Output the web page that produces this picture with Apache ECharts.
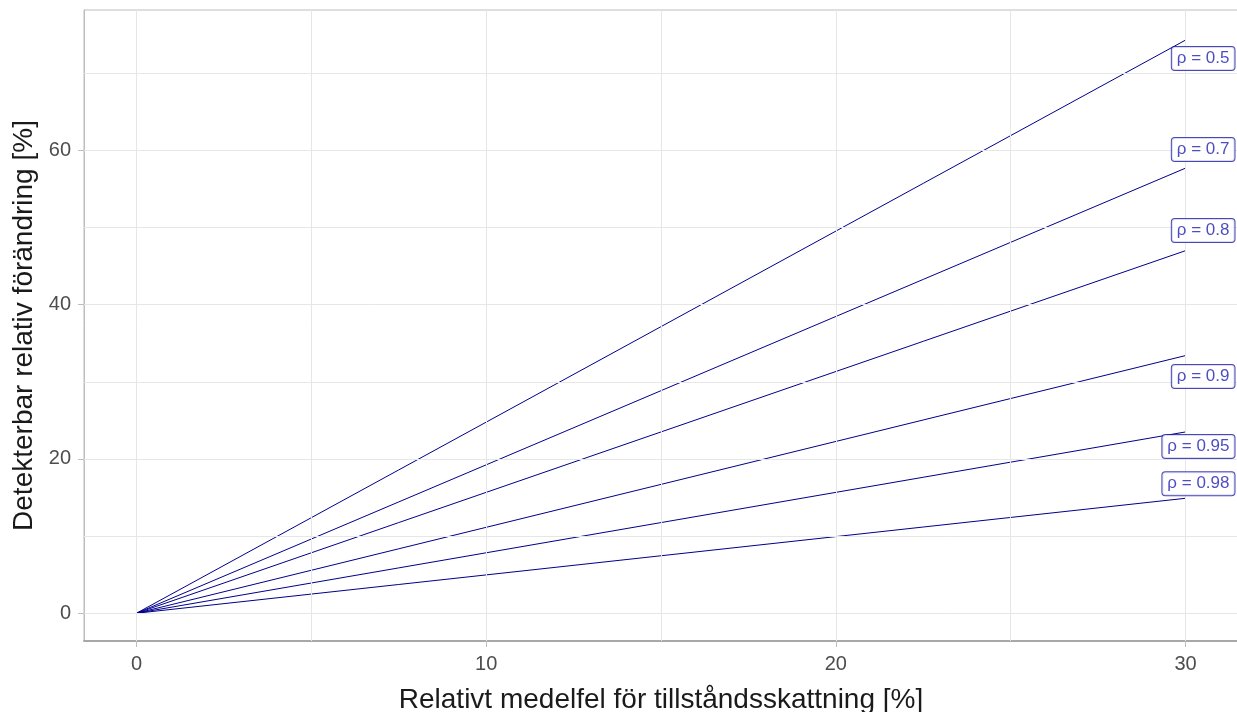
<!DOCTYPE html>
<html><head><meta charset="utf-8">
<script src="https://cdn.jsdelivr.net/npm/echarts@6/dist/echarts.min.js"></script>
<style>html,body{margin:0;padding:0;background:#fff}#c{width:1237px;height:712px}</style>
</head><body><div id="c"></div>
<script>
// Data
var rhoLabels = ['ρ = 0.5','ρ = 0.7','ρ = 0.8','ρ = 0.9','ρ = 0.95','ρ = 0.98'];
var xStart = 0, xEnd = 30;
var endValues = [74.3, 57.7, 47.0, 33.4, 23.5, 14.9];
var labelY = [71.9, 60.1, 49.6, 30.7, 21.6, 16.8];
var labelX = 31.4;
var xTicks = [0, 10, 20, 30];
var yTicks = [0, 20, 40, 60];
var xMinor = [5, 15, 25];
var yMinor = [10, 30, 50, 70];

var font = '"Liberation Sans", Arial, sans-serif';
var gridCol = '#E6E6E6';
var series = [];
rhoLabels.forEach(function(n, i){
  series.push({type:'line', name:n, data:[[xStart,0],[xEnd,endValues[i]]], symbol:'none',
    lineStyle:{color:'#00008B', width:1}, silent:true, z:3});
});
// grid lines
var ml = [];
xTicks.concat(xMinor).forEach(function(v){ ml.push({xAxis:v}); });
yTicks.concat(yMinor).forEach(function(v){ ml.push({yAxis:v}); });
series.push({type:'line', data:[], silent:true, z:1,
  markLine:{silent:true, symbol:'none', label:{show:false},
    lineStyle:{color:gridCol, width:1, type:'solid'}, data:ml, animation:false}});
// labels
series.push({type:'scatter', symbolSize:0, z:5, silent:true,
  data: rhoLabels.map(function(n,i){ return {value:[labelX, labelY[i]], name:n}; }),
  label:{show:true, position:'left', distance:0, formatter:function(p){return p.name;},
    color:'#2020B4', fontFamily:font, fontSize:17, backgroundColor:'#fff',
    borderColor:'#1a1aa8', borderWidth:1, borderRadius:3, padding:[3,5,3,5]}});

var chart = echarts.init(document.getElementById('c'));
chart.setOption({
  animation:false,
  backgroundColor:'#fff',
  grid:{left:84, right:-1, top:10, bottom:71, show:true, borderColor:'#BDBDBD', borderWidth:1,
    containLabel:false, outerBoundsMode:'none'},
  xAxis:{type:'value', min:-1.5, max:31.5,
    name:'Relativt medelfel för tillståndsskattning [%]', nameLocation:'middle', nameGap:45,
    nameTextStyle:{fontFamily:font, fontSize:28, color:'#1a1a1a'},
    axisLine:{show:true, onZero:false, lineStyle:{color:'#A8A8A8', width:2}},
    axisTick:{show:true, customValues:xTicks, length:6, lineStyle:{color:'#BDBDBD'}},
    axisLabel:{customValues:xTicks, fontFamily:font, fontSize:20, color:'#4D4D4D', margin:13},
    splitLine:{show:false}},
  yAxis:{type:'value', min:-3.6, max:78.2,
    name:'Detekterbar relativ förändring [%]', nameLocation:'middle', nameGap:45,
    nameTextStyle:{fontFamily:font, fontSize:28, color:'#1a1a1a'},
    axisLine:{show:true, onZero:false, lineStyle:{color:'#BDBDBD', width:1}},
    axisTick:{show:true, customValues:yTicks, length:6, lineStyle:{color:'#BDBDBD'}},
    axisLabel:{customValues:yTicks, fontFamily:font, fontSize:20, color:'#4D4D4D', margin:13},
    splitLine:{show:false}},
  series:series
});
</script></body></html>
